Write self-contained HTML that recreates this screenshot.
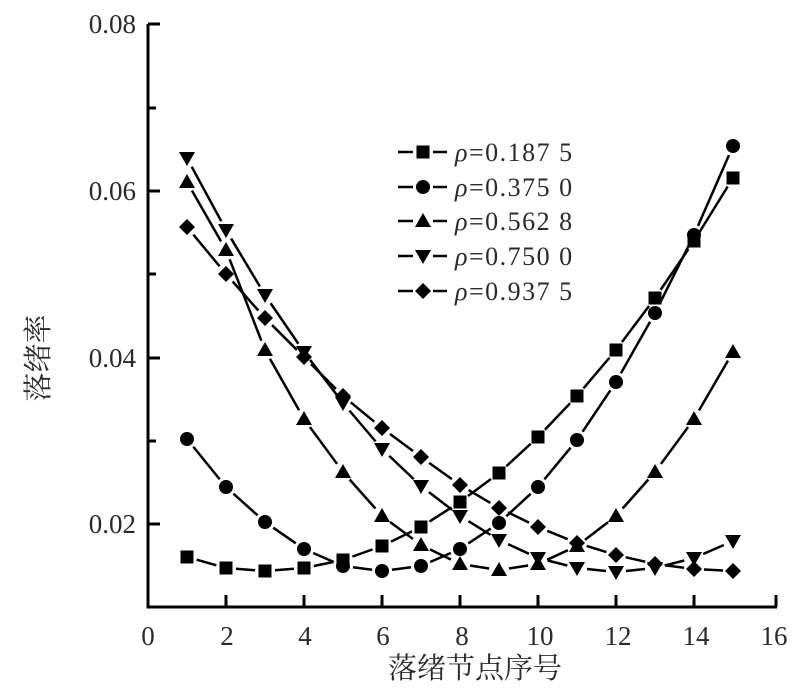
<!DOCTYPE html>
<html><head><meta charset="utf-8"><style>
html,body{margin:0;padding:0;background:#fff}
svg{display:block}
text{font-family:"Liberation Serif","Noto Serif CJK SC",serif;fill:#2a2a2a}
</style></head><body>
<svg id="s" width="800" height="696" viewBox="0 0 800 696" xmlns="http://www.w3.org/2000/svg">
<g stroke="#000" stroke-width="3" fill="none">
<path d="M148 24 V607 H777"/>
<path d="M148 24 h12 M148 108 h8 M148 191 h12 M148 274 h8 M148 358 h12 M148 441 h8 M148 524 h12"/>
<path d="M226 607 v-12 M304 607 v-12 M382 607 v-12 M460 607 v-12 M538 607 v-12 M616 607 v-12 M694 607 v-12 M776 607 v-12"/>
</g>
<g font-size="27" text-anchor="end">
<text x="136" y="33">0.08</text><text x="136" y="200">0.06</text><text x="136" y="367">0.04</text><text x="136" y="533">0.02</text>
</g>
<g font-size="27" text-anchor="middle">
<text x="148" y="645">0</text><text x="227" y="645">2</text><text x="305" y="645">4</text><text x="383" y="645">6</text><text x="462" y="645">8</text><text x="540" y="645">10</text><text x="618" y="645">12</text><text x="696" y="645">14</text><text x="774" y="645">16</text>
</g>
<text x="475" y="678" font-size="29" text-anchor="middle">落绪节点序号</text>
<text transform="translate(48,358) rotate(-90)" font-size="29" text-anchor="middle">落绪率</text>
<g id="g"></g>
<g font-size="26" letter-spacing="1.5">
<text x="455" y="161"><tspan font-style="italic">ρ</tspan>=0.187 5</text>
<text x="455" y="196"><tspan font-style="italic">ρ</tspan>=0.375 0</text>
<text x="455" y="230"><tspan font-style="italic">ρ</tspan>=0.562 8</text>
<text x="455" y="265"><tspan font-style="italic">ρ</tspan>=0.750 0</text>
<text x="455" y="300"><tspan font-style="italic">ρ</tspan>=0.937 5</text>
</g>
</svg>
<script>
var S=[
["sq",[557,568,571,568,560,546,527,502,473,437,396,350,298,241,178]],
["ci",[439,487,522,549,566,571,566,549,523,487,440,382,313,235,146]],
["up",[182,250,350,419,472,516,545,564,570,564,546,516,472,419,352]],
["dn",[158,230,295,352,403,449,486,516,540,558,568,572,568,558,541]],
["di",[227,274,318,357,396,428,457,485,508,527,543,555,564,569,571]]];
var LY=[152,187,221,256,291];
var h="";
function mk(t,x,y){
 if(t=="sq")return '<rect x="'+(x-6.5)+'" y="'+(y-6.5)+'" width="13" height="13"/>';
 if(t=="ci")return '<circle cx="'+x+'" cy="'+y+'" r="7"/>';
 if(t=="up")return '<polygon points="'+x+','+(y-8)+' '+(x-8)+','+(y+6)+' '+(x+8)+','+(y+6)+'"/>';
 if(t=="dn")return '<polygon points="'+x+','+(y+8)+' '+(x-8)+','+(y-6)+' '+(x+8)+','+(y-6)+'"/>';
 return '<polygon points="'+x+','+(y-8)+' '+(x+8)+','+y+' '+x+','+(y+8)+' '+(x-8)+','+y+'"/>';
}
S.forEach(function(s,k){
 var t=s[0],ys=s[1];
 for(var i=0;i<14;i++){
  var x1=148+39*(i+1),y1=ys[i],x2=x1+39,y2=ys[i+1];
  var dx=x2-x1,dy=y2-y1,L=Math.sqrt(dx*dx+dy*dy),g=10;
  if(L>2*g+2)h+='<line x1="'+(x1+dx*g/L)+'" y1="'+(y1+dy*g/L)+'" x2="'+(x2-dx*g/L)+'" y2="'+(y2-dy*g/L)+'" stroke="#000" stroke-width="2.5"/>';
 }
 for(var i=0;i<15;i++)h+=mk(t,148+39*(i+1),ys[i]);
 var ly=LY[k];
 h+='<line x1="398" y1="'+ly+'" x2="413" y2="'+ly+'" stroke="#000" stroke-width="2.5"/>';
 h+='<line x1="433" y1="'+ly+'" x2="447" y2="'+ly+'" stroke="#000" stroke-width="2.5"/>';
 h+=mk(t,423,ly);
});
document.getElementById("g").innerHTML=h;
</script>
</body></html>
